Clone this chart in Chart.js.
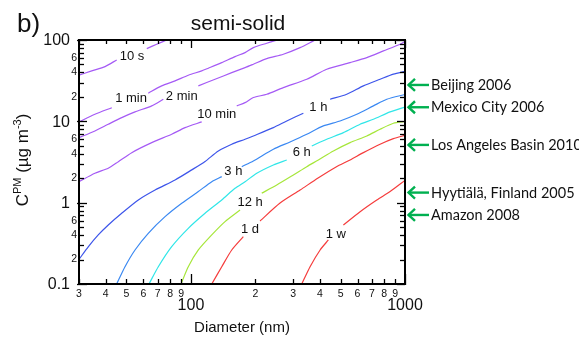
<!DOCTYPE html>
<html><head><meta charset="utf-8">
<script src="https://cdn.jsdelivr.net/npm/chart.js@4/dist/chart.umd.min.js"></script>
<style>html,body{margin:0;padding:0;background:#fff;overflow:hidden}#wrap{width:579px;height:339px}</style>
</head><body><div id="wrap"><canvas id="c" width="579" height="339"></canvas></div>
<script>
// ---- tick definitions ----
const xMinorTicks = [30,40,50,60,70,80,90,200,300,400,500,600,700,800,900];
const xMinorLabels = ['3','4','5','6','7','8','9','2','3','4','5','6','7','8','9'];
const xMajorTicks = [100,1000];
const xMajorLabels = ['100','1000'];
const yMinorTicks = [0.2,0.3,0.4,0.5,0.6,0.7,0.8,0.9,2,3,4,5,6,7,8,9,20,30,40,50,60,70,80,90];
const yMinorLabels = ['2','','4','','6','','','','2','','4','','6','','','','2','','4','','6','','',''];
const yMajorTicks = [0.1,1,10,100];
const yMajorLabels = ['0.1','1','10','100'];

// ---- contour lines: diameter (nm) and C_PM (ug m-3); null = label gap ----
const diam_10s = [30,34.4,39.7,45.0,53.1,62.2,69.2,77.1];
const conc_10s = [36.9,41.7,47.1,56.9,null,78.4,88.8,100];
const diam_1min = [30,35.6,42.7,52.5,63.2,73.0,84.3,97.2,112.3,120.6,139.3,160.7,179.0,195.7,226.1,247.2,252.5];
const conc_1min = [9.83,12.2,14.7,null,22.2,27.3,31.4,36.9,41.7,45.0,52.7,62.5,70.0,80.6,91.3,98.3,100];
const diam_2min = [30,35.6,41.1,47.5,54.8,65.6,74.3,90.6,108.3,129.6,155.1,179.0,195.7,226.1,270.2,323.5,373.3,380.2];
const conc_2min = [6.30,7.62,9.21,11.1,13.05,15.5,18.7,null,27.3,32.9,39.7,45.8,50.4,59.0,66.9,80.6,97.5,100];
const diam_10min = [30,35.6,41.1,45.8,52.9,65.6,81.3,93.9,112.3,132.0,163.7,179.0,195.7,226.1,270.2,347.6,431.0,554.0,663.0,792.8,948.6,1000];
const conc_10min = [1.81,2.30,2.65,3.19,4.12,5.47,6.94,8.37,9.83,null,15.5,17.0,19.6,21.5,26.0,32.9,43.7,52.7,60.7,73.4,88.8,96.1];
const diam_1h = [30,33.2,36.9,41.1,47.5,56.8,68.0,84.3,100.9,116.4,134.3,155.1,179.0,195.7,242.7,280.3,335.1,393.9,446.7,534.6,639.1,764.9,882.6,1000];
const conc_1h = [0.201,0.288,0.401,0.532,0.741,1.08,1.43,1.90,2.53,3.21,4.32,5.23,6.02,6.61,8.37,10.1,12.6,null,18.7,21.5,27.3,32.9,38.0,41.1];
const diam_3h = [45.0,49.2,54.8,63.2,75.7,90.6,108.3,125.1,139.3,157.8,172.8,195.7,242.7,290.4,347.6,415.5,497.4,595.4,711.8,822.2,1000];
const conc_3h = [0.1,0.163,0.262,0.420,0.673,0.983,1.37,1.81,2.09,null,2.77,3.26,4.54,5.58,6.94,8.78,10.1,12.2,15.5,18.7,21.4];
const diam_6h = [63.7,70.4,81.3,97.2,116.4,139.3,160.7,179.0,203.0,242.7,280.3,329.5,366.9,431.0,515.4,617.0,711.8,852.0,1000];
const conc_6h = [0.1,0.163,0.288,0.484,0.741,1.08,1.50,1.81,2.30,2.91,3.35,null,4.98,6.02,7.26,9.21,10.6,13.05,15.0];
const diam_12h = [89.9,97.2,108.3,125.1,144.3,169.6,188.9,214.2,251.7,300.9,347.6,393.9,462.9,554.0,663.0,764.9,882.6,1000];
const conc_12h = [0.1,0.163,0.262,0.401,0.584,0.813,null,1.31,1.65,2.19,2.77,3.35,4.32,5.47,6.61,8.0,9.48,9.97];
const diam_1d = [125.1,139.3,155.1,175.7,188.9,210.3,260.8,323.5,392.6,476.4,554.0,639.1,764.9,882.6,1000];
const conc_1d = [0.1,0.163,0.262,0.382,null,0.596,0.99,1.43,2.01,2.75,3.35,4.12,5.23,6.13,6.71];
const diam_1w = [329.5,360.2,401.3,438.6,474.9,515.4,617.0,738.3,852.0,1000];
const conc_1w = [0.1,0.163,0.262,0.348,null,0.532,0.775,1.08,1.37,1.88];

const contourNames = ['10 s','1 min','2 min','10 min','1 h','3 h','6 h','12 h','1 d','1 w'];
const labelDiam = [53.1,52.5,90.6,132.0,393.9,157.8,329.5,188.9,188.9,474.9];
const labelConc = [63.7,19.0,20.5,12.2,14.7,2.41,4.20,1.0,0.471,0.412];

// ---- measurement sites (arrows on right) ----
const siteNames = ['Beijing 2006','Mexico City 2006','Los Angeles Basin 2010','Hyytiälä, Finland 2005','Amazon 2008'];
const siteConc = [28.0,14.9,5.13,1.33,0.706];

// ---- styling ----
const diamSets = [diam_10s,diam_1min,diam_2min,diam_10min,diam_1h,diam_3h,diam_6h,diam_12h,diam_1d,diam_1w];
const concSets = [conc_10s,conc_1min,conc_2min,conc_10min,conc_1h,conc_3h,conc_6h,conc_12h,conc_1d,conc_1w];
const lineColors = ['#a55af5','#a55af5','#a55af5','#a55af5','#3d55ea','#3a88f2','#30e6e8','#a6e63a','#f53c3c','#f53c3c'];

const datasets = contourNames.map((n,i)=>({
  label:n,
  data: diamSets[i].map((d,j)=>({x:d,y:concSets[i][j]})),
  borderColor: lineColors[i],
  borderWidth: 1.2,
  pointRadius: 0,
  tension: 0.25,
  spanGaps: false,
  fill: false
}));

const AX = '"Liberation Sans", Arial, sans-serif';

const decor = {
  id:'decor',
  afterDraw(chart){
    const ctx = chart.ctx, a = chart.chartArea;
    const xs = chart.scales.x, ys = chart.scales.y;
    ctx.save();
    // contour labels
    ctx.fillStyle = '#111';
    ctx.font = '13px ' + AX;
    ctx.textAlign = 'center'; ctx.textBaseline = 'middle';
    contourNames.forEach((n,i)=>{
      ctx.fillText(n, xs.getPixelForValue(labelDiam[i]), ys.getPixelForValue(labelConc[i]));
    });
    // ticks
    ctx.strokeStyle = '#000'; ctx.lineWidth = 1.3;
    const tick = (x1,y1,x2,y2)=>{ctx.beginPath();ctx.moveTo(x1,y1);ctx.lineTo(x2,y2);ctx.stroke();};
    xMinorTicks.forEach(v=>{const p=Math.round(xs.getPixelForValue(v))+0.5; tick(p,a.bottom,p,a.bottom-5); tick(p,a.top,p,a.top+4);});
    xMajorTicks.forEach(v=>{const p=Math.round(xs.getPixelForValue(v))+0.5; tick(p,a.bottom+1,p,a.bottom-10); tick(p,a.top,p,a.top+8);});
    yMinorTicks.forEach(v=>{const p=Math.round(ys.getPixelForValue(v))+0.5; tick(a.left-1,p,a.left+5,p); tick(a.right,p,a.right-5,p);});
    yMajorTicks.forEach(v=>{const p=Math.round(ys.getPixelForValue(v))+0.5; tick(a.left-2,p,a.left+8,p); tick(a.right,p,a.right-8,p);});
    // frame
    ctx.lineWidth = 2;
    ctx.strokeRect(a.left, a.top, a.right-a.left, a.bottom-a.top);
    // tick labels
    ctx.fillStyle = '#111';
    ctx.textAlign = 'center'; ctx.textBaseline = 'middle';
    ctx.font = '10.5px ' + AX;
    xMinorTicks.forEach((v,i)=>{ if(xMinorLabels[i]) ctx.fillText(xMinorLabels[i], xs.getPixelForValue(v), a.bottom+10); });
    ctx.font = '16px ' + AX;
    xMajorTicks.forEach((v,i)=>{ ctx.fillText(xMajorLabels[i], xs.getPixelForValue(v), a.bottom+22); });
    ctx.textAlign = 'right';
    ctx.font = '10.5px ' + AX;
    yMinorTicks.forEach((v,i)=>{ if(yMinorLabels[i]) ctx.fillText(yMinorLabels[i], a.left-2, ys.getPixelForValue(v)); });
    ctx.font = '16px ' + AX;
    yMajorTicks.forEach((v,i)=>{ ctx.fillText(yMajorLabels[i], a.left-9, ys.getPixelForValue(v)+1); });
    // axis titles
    ctx.textAlign = 'center';
    ctx.font = '15px ' + AX;
    ctx.fillText('Diameter (nm)', 242, 328);
    ctx.font = '21px ' + AX;
    ctx.textBaseline = 'alphabetic';
    ctx.fillText('semi-solid', 238, 30);
    ctx.textAlign = 'left';
    ctx.font = '26px ' + AX;
    ctx.fillText('b)', 17, 32);
    // y title (rotated, with superscripts)
    const parts = [['C',17,0],['PM',11,-7],[' (µg m',17,0],['-3',11,-7],[')',17,0]];
    let total = 0;
    parts.forEach(p=>{ctx.font=p[1]+'px '+AX; total += ctx.measureText(p[0]).width;});
    ctx.translate(28, 160); ctx.rotate(-Math.PI/2);
    let cx = -total/2;
    ctx.textBaseline = 'alphabetic';
    parts.forEach(p=>{ctx.font=p[1]+'px '+AX; ctx.fillText(p[0], cx, p[2]); cx += ctx.measureText(p[0]).width;});
    ctx.setTransform(1,0,0,1,0,0);
    // site arrows
    ctx.lineWidth = 2.4;
    siteConc.forEach((c,i)=>{
      const y = ys.getPixelForValue(c), x0 = a.right + 2;
      ctx.strokeStyle = '#00b050';
      ctx.beginPath(); ctx.moveTo(x0 + 1, y); ctx.lineTo(x0 + 22, y); ctx.stroke();
      ctx.beginPath(); ctx.moveTo(x0 + 8, y - 6); ctx.lineTo(x0 + 1.5, y); ctx.lineTo(x0 + 8, y + 6); ctx.stroke();
      ctx.fillStyle = '#111';
      ctx.font = '14.5px Lato, "Open Sans", sans-serif';
      ctx.textAlign = 'left'; ctx.textBaseline = 'middle';
      ctx.fillText(siteNames[i], x0 + 24, y + 0.5);
    });
    ctx.restore();
  }
};

new Chart(document.getElementById('c'), {
  type: 'line',
  data: { datasets },
  options: {
    responsive: false, animation: false, devicePixelRatio: 1,
    layout: { padding: { left: 79, right: 174, top: 40, bottom: 55 } },
    parsing: true,
    plugins: { legend: { display: false }, tooltip: { enabled: false }, title: { display: false } },
    scales: {
      x: { type: 'logarithmic', min: 30, max: 1000, display: false },
      y: { type: 'logarithmic', min: 0.1, max: 100, display: false }
    }
  },
  plugins: [decor]
});
</script>
</body></html>
